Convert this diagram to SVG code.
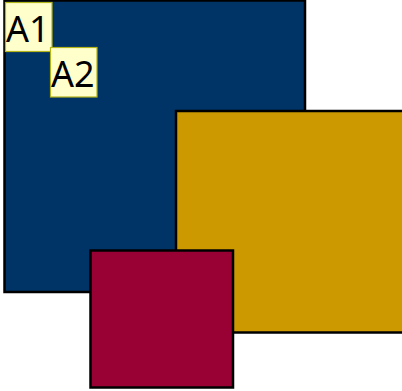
<svg xmlns="http://www.w3.org/2000/svg" width="402" height="391" viewBox="0 0 402 391">
<style>
.sq{stroke:#000;stroke-width:2.5}
.lbl rect{fill:#ffffcc;stroke:#b3b31a;stroke-width:1.2}
.lbl text{font-family:"Noto Sans","Open Sans",sans-serif;font-size:36px;fill:#000}
</style>
<rect width="402" height="391" fill="#fff"/>
<g id="blue"><rect class="sq" x="4.5" y="0.5" width="300.5" height="291.5" fill="#003366"/></g>
<g id="gold"><rect class="sq" x="176" y="111" width="230" height="221.5" fill="#cc9900"/></g>
<g id="red"><rect class="sq" x="90.5" y="250.5" width="142.5" height="137" fill="#990033"/></g>
<g id="A1" class="lbl"><rect x="5.5" y="2.5" width="46.5" height="49"/><text x="6" y="42">A1</text></g>
<g id="A2" class="lbl"><rect x="50.5" y="47.5" width="46.5" height="49.5"/><text x="51" y="87">A2</text></g>
<g id="connectors"></g>
</svg>
